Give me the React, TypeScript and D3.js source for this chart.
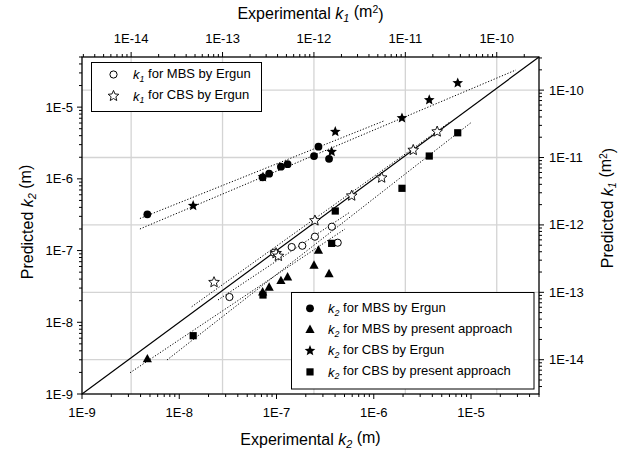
import React from "react";
import * as d3 from "d3";

const W = 624;
const H = 453;
const PL = 82, PR = 539, PT = 57, PB = 394;
const FONT = "'Liberation Sans', Arial, Helvetica, sans-serif";

// k2 (m): MBS samples
const mbsExpK2 = [4.7e-9, 7.2e-8, 8.4e-8, 1.11e-7, 1.3e-7, 2.43e-7, 2.7e-7, 3.47e-7];
const mbsErgunK2 = [3.2e-7, 1.05e-6, 1.18e-6, 1.48e-6, 1.6e-6, 2.08e-6, 2.81e-6, 1.9e-6];
const mbsPresentK2 = [3.08e-9, 2.64e-8, 3.08e-8, 3.8e-8, 4.27e-8, 6.22e-8, 1.01e-7, 4.75e-8];
// k2 (m): CBS samples
const cbsExpK2 = [1.39e-8, 7.26e-8, 3.69e-7, 4.02e-7, 1.95e-6, 3.72e-6, 7.3e-6];
const cbsErgunK2 = [4.22e-7, 1.06e-6, 2.39e-6, 4.54e-6, 7.05e-6, 1.26e-5, 2.17e-5];
const cbsPresentK2 = [6.5e-9, 2.4e-8, 1.26e-7, 3.56e-7, 7.38e-7, 2.08e-6, 4.39e-6];
// k1 (m^2)
const mbsExpK1 = [1.19e-13, 3.66e-13, 5.71e-13, 7.46e-13, 1.025e-12, 1.57e-12, 1.82e-12];
const mbsErgunK1 = [8.52e-14, 3.87e-13, 4.7e-13, 4.91e-13, 6.69e-13, 9.41e-13, 5.45e-13];
const cbsExpK1 = [8.07e-14, 3.85e-13, 4.08e-13, 1.025e-12, 2.59e-12, 5.51e-12, 1.22e-11, 2.23e-11];
const cbsErgunK1 = [1.41e-13, 3.79e-13, 3.45e-13, 1.16e-12, 2.71e-12, 5.01e-12, 1.29e-11, 2.42e-11];

// fitted lines (end points)
const fitMbsErgunK2 = [[3.94e-9, 2.8e-7], [1.3e-6, 6.5e-6]];
const fitCbsErgunK2 = [[3.94e-9, 2.0e-7], [2.9e-5, 3.3e-5]];
const fitMbsPresentK2 = [[3.12e-9, 1.98e-9], [5.06e-7, 2.0e-7]];
const fitCbsPresentK2 = [[7.48e-9, 2.98e-9], [1.02e-5, 6.21e-6]];
const fitMbsK1 = [[8.92e-14, 7.7e-14], [2.48e-12, 1.55e-12]];
const fitCbsK1 = [[4.6e-14, 6.11e-14], [3.08e-11, 3.37e-11]];

const k2Ticks = [1e-9, 1e-8, 1e-7, 1e-6, 1e-5];
const k1Ticks = [1e-14, 1e-13, 1e-12, 1e-11, 1e-10];
const k2Labels = ["1E-9", "1E-8", "1E-7", "1E-6", "1E-5"];
const k1Labels = ["1E-14", "1E-13", "1E-12", "1E-11", "1E-10"];

const legendTop = ["for MBS by Ergun", "for CBS by Ergun"];
const legendBottom = [
  "for MBS by Ergun",
  "for MBS by present approach",
  "for CBS by Ergun",
  "for CBS by present approach",
];

const x2 = d3.scaleLog().domain([1e-9, 5e-5]).range([PL, PR]);
const y2 = d3.scaleLog().domain([1e-9, 5e-5]).range([PB, PT]);
const x1 = d3.scaleLog().domain([2.9e-15, 2.9e-10]).range([PL, PR]);
const y1 = d3.scaleLog().domain([3.1e-15, 3.1e-10]).range([PB, PT]);

const starPath = (R: number) => {
  const pts: string[] = [];
  for (let i = 0; i < 10; i++) {
    const a = -Math.PI / 2 + (i * Math.PI) / 5;
    const r = i % 2 === 0 ? R : R * 0.45;
    pts.push(`${(r * Math.cos(a)).toFixed(2)},${(r * Math.sin(a)).toFixed(2)}`);
  }
  return "M" + pts.join("L") + "Z";
};
const triPath = "M0,-5L4.6,3.4L-4.6,3.4Z";

const Marker = ({ kind, x, y }: { kind: string; x: number; y: number }) => {
  const t = `translate(${x},${y})`;
  switch (kind) {
    case "circle":
      return <circle cx={x} cy={y} r={3.9} fill="black" />;
    case "ocircle":
      return <circle cx={x} cy={y} r={3.6} fill="white" stroke="black" strokeWidth={1} />;
    case "tri":
      return <path d={triPath} transform={t} fill="black" />;
    case "square":
      return <rect x={x - 3.6} y={y - 3.6} width={7.2} height={7.2} fill="black" />;
    case "star":
      return <path d={starPath(5.6)} transform={t} fill="black" />;
    case "ostar":
      return <path d={starPath(5.6)} transform={t} fill="white" stroke="black" strokeWidth={0.9} />;
    default:
      return null;
  }
};

// minor ticks for a log scale
const minorTicks = (s: d3.ScaleLogarithmic<number, number>) => {
  const [a, b] = s.domain();
  const out: number[] = [];
  for (let e = Math.floor(Math.log10(a)); e <= Math.ceil(Math.log10(b)); e++) {
    for (let m = 1; m <= 9; m++) {
      const v = m * Math.pow(10, e);
      if (v >= a * 0.9999 && v <= b * 1.0001) out.push(v);
    }
  }
  return out;
};

const isDecade = (v: number) => Math.abs(Math.log10(v) - Math.round(Math.log10(v))) < 1e-6;

const Sub = ({ t }: { t: string }) => (
  <>
    <tspan fontStyle="italic">k</tspan>
    <tspan fontStyle="italic" fontSize="0.68em" dy="0.3em">{t}</tspan>
    <tspan dy="-0.3em"> </tspan>
  </>
);

export default function App() {
  const k2Minor = minorTicks(x2);
  const k1xMinor = minorTicks(x1);
  const k1yMinor = minorTicks(y1);
  const k2yMinor = minorTicks(y2);

  const line = (pts: number[][], sx: any, sy: any, key: string) => (
    <line
      key={key}
      x1={sx(pts[0][0])}
      y1={sy(pts[0][1])}
      x2={sx(pts[1][0])}
      y2={sy(pts[1][1])}
      stroke="black"
      strokeWidth={1}
      strokeDasharray="1.2,1.8"
    />
  );

  return (
    <svg
      width={W}
      height={H}
      style={{ position: "absolute", left: 0, top: 0, background: "white" }}
      fontFamily={FONT}
    >
      <rect width={W} height={H} fill="white" />
      {/* grid from the k1 axes */}
      {k1Ticks.map((v) => (
        <line key={"gx" + v} x1={x1(v)} x2={x1(v)} y1={PT} y2={PB} stroke="#d4d4d4" strokeWidth={1.3} />
      ))}
      {k1Ticks.map((v) => (
        <line key={"gy" + v} x1={PL} x2={PR} y1={y1(v)} y2={y1(v)} stroke="#d4d4d4" strokeWidth={1.3} />
      ))}

      {/* 1:1 line */}
      <line x1={x2(1e-9)} y1={y2(1e-9)} x2={x2(5e-5)} y2={y2(5e-5)} stroke="black" strokeWidth={1.2} />

      {/* fits */}
      {line(fitMbsErgunK2, x2, y2, "f1")}
      {line(fitCbsErgunK2, x2, y2, "f2")}
      {line(fitMbsPresentK2, x2, y2, "f3")}
      {line(fitCbsPresentK2, x2, y2, "f4")}
      {line(fitMbsK1, x1, y1, "f5")}
      {line(fitCbsK1, x1, y1, "f6")}

      {/* points */}
      {mbsExpK1.map((v, i) => (
        <Marker key={"oc" + i} kind="ocircle" x={x1(v)} y={y1(mbsErgunK1[i])} />
      ))}
      {cbsExpK1.map((v, i) => (
        <Marker key={"os" + i} kind="ostar" x={x1(v)} y={y1(cbsErgunK1[i])} />
      ))}
      {mbsExpK2.map((v, i) => (
        <Marker key={"tr" + i} kind="tri" x={x2(v)} y={y2(mbsPresentK2[i])} />
      ))}
      {cbsExpK2.map((v, i) => (
        <Marker key={"sq" + i} kind="square" x={x2(v)} y={y2(cbsPresentK2[i])} />
      ))}
      {cbsExpK2.map((v, i) => (
        <Marker key={"st" + i} kind="star" x={x2(v)} y={y2(cbsErgunK2[i])} />
      ))}
      {mbsExpK2.map((v, i) => (
        <Marker key={"ci" + i} kind="circle" x={x2(v)} y={y2(mbsErgunK2[i])} />
      ))}

      {/* legend top-left */}
      <rect x={91.5} y={62.5} width={170} height={49} fill="white" stroke="black" strokeWidth={1} />
      {legendTop.map((t, i) => (
        <g key={"lt" + i}>
          <Marker kind={i === 0 ? "ocircle" : "ostar"} x={113.5} y={74.5 + i * 21.5} />
          <text x={133} y={79 + i * 21.5} fontSize={13}>
            <Sub t="1" />
            {t}
          </text>
        </g>
      ))}

      {/* legend bottom-right */}
      <rect x={291.5} y={292.5} width={242.5} height={96.5} fill="white" stroke="black" strokeWidth={1} />
      {legendBottom.map((t, i) => (
        <g key={"lb" + i}>
          <Marker kind={["circle", "tri", "star", "square"][i]} x={310} y={308.3 + i * 21.2} />
          <text x={328} y={313 + i * 21.2} fontSize={13}>
            <Sub t="2" />
            {t}
          </text>
        </g>
      ))}

      {/* frame */}
      <rect x={PL} y={PT} width={PR - PL} height={PB - PT} fill="none" stroke="black" strokeWidth={1.3} />

      {/* bottom axis (k2) */}
      {k2Minor.map((v) => (
        <line key={"bt" + v} x1={x2(v)} x2={x2(v)} y1={PB} y2={PB + (isDecade(v) ? 5 : 3)} stroke="black" strokeWidth={1} />
      ))}
      {k2Ticks.map((v, i) => (
        <text key={"bl" + v} x={x2(v)} y={417} fontSize={13} textAnchor="middle">
          {k2Labels[i]}
        </text>
      ))}
      {/* left axis (k2) */}
      {k2yMinor.map((v) => (
        <line key={"lt" + v} x1={PL - (isDecade(v) ? 5 : 3)} x2={PL} y1={y2(v)} y2={y2(v)} stroke="black" strokeWidth={1} />
      ))}
      {k2Ticks.map((v, i) => (
        <text key={"ll" + v} x={73} y={y2(v)} dy="0.35em" fontSize={13} textAnchor="end">
          {k2Labels[i]}
        </text>
      ))}
      {/* top axis (k1) */}
      {k1xMinor.map((v) => (
        <line key={"tt" + v} x1={x1(v)} x2={x1(v)} y1={PT} y2={PT - (isDecade(v) ? 5 : 3)} stroke="black" strokeWidth={1} />
      ))}
      {k1Ticks.map((v, i) => (
        <text key={"tl" + v} x={x1(v)} y={43} fontSize={13} textAnchor="middle">
          {k1Labels[i]}
        </text>
      ))}
      {/* right axis (k1) */}
      {k1yMinor.map((v) => (
        <line key={"rt" + v} x1={PR} x2={PR + (isDecade(v) ? 5 : 3)} y1={y1(v)} y2={y1(v)} stroke="black" strokeWidth={1} />
      ))}
      {k1Ticks.map((v, i) => (
        <text key={"rl" + v} x={549} y={y1(v)} dy="0.35em" fontSize={13}>
          {k1Labels[i]}
        </text>
      ))}

      {/* axis titles */}
      <text x={(PL + PR) / 2} y={19} fontSize={16} textAnchor="middle">
        Experimental <Sub t="1" />(m<tspan fontSize="0.65em" dy="-0.45em">2</tspan>
        <tspan dy="0.45em">)</tspan>
      </text>
      <text x={(PL + PR) / 2} y={445} fontSize={16} textAnchor="middle">
        Experimental <Sub t="2" />(m)
      </text>
      <text transform="translate(33,222) rotate(-90)" fontSize={16} textAnchor="middle">
        Predicted <Sub t="2" />(m)
      </text>
      <text transform="translate(613,208) rotate(-90)" fontSize={16} textAnchor="middle">
        Predicted <Sub t="1" />(m<tspan fontSize="0.65em" dy="-0.45em">2</tspan>
        <tspan dy="0.45em">)</tspan>
      </text>
    </svg>
  );
}
